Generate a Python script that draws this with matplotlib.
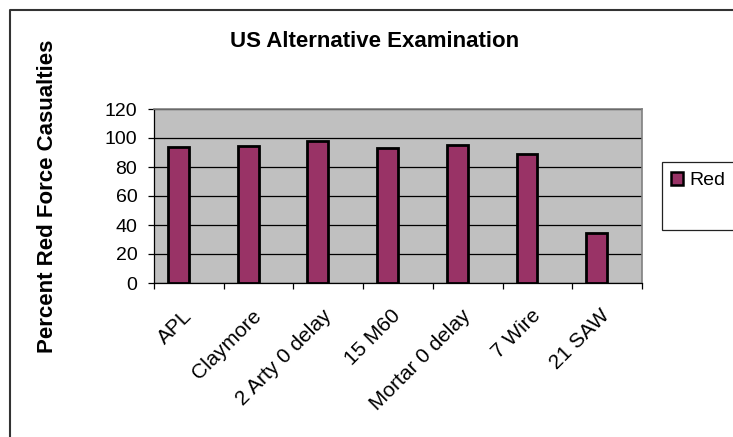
import matplotlib
matplotlib.use("Agg")
import matplotlib.pyplot as plt
from matplotlib.patches import Rectangle
from matplotlib.lines import Line2D
from matplotlib.transforms import ScaledTranslation

plt.rcParams['font.family'] = ['Liberation Sans', 'DejaVu Sans']

categories = ["APL", "Claymore", "2 Arty 0 delay", "15 M60",
              "Mortar 0 delay", "7 Wire", "21 SAW"]
red_values = [94, 94.5, 98, 93.3, 95, 89, 34.3]
series_name = "Red"
y_ticks = [0, 20, 40, 60, 80, 100, 120]

W, H = 733, 437
fig = plt.figure(figsize=(W / 100, H / 100), dpi=100)
fig.patch.set_facecolor("white")

def fx(px):
    return px / W

def fy(py):
    return 1 - py / H

ax = fig.add_axes([fx(154), fy(283), fx(642) - fx(154), fy(109) - fy(283)])
ax.set_facecolor("#C0C0C0")

# clustered layout: the series occupies the left half of each category slot
x = list(range(len(categories)))
ax.bar(x, red_values, width=-0.30, align="edge", color="#993366",
       edgecolor="black", linewidth=2.0, zorder=3)

ax.set_xlim(-0.5, len(categories) - 0.5)
ax.set_ylim(0, 120)
ax.set_yticks(y_ticks)
ax.set_yticklabels([str(v) for v in y_ticks], fontsize=14)
ax.yaxis.grid(True, color="black", linewidth=0.9, zorder=1)
ax.set_axisbelow(True)

# category boundaries carry the tick marks; labels hang below the centres
ax.set_xticks([i - 0.5 for i in range(len(categories) + 1)])
ax.set_xticklabels([])
ax.set_xticks(x, minor=True)
ax.set_xticklabels(categories, minor=True, rotation=45, ha="right",
                   va="center", rotation_mode="anchor", fontsize=15)
shift = ScaledTranslation(-0.25, 0, fig.dpi_scale_trans)
for lbl in ax.get_xticklabels(minor=True):
    lbl.set_transform(lbl.get_transform() + shift)
ax.tick_params(axis="x", which="minor", length=0, pad=21.5)
ax.tick_params(axis="x", which="major", length=4.5, width=0.9, direction="out")
ax.tick_params(axis="y", length=4.5, width=0.9, direction="out", pad=7.5)

for side in ("top", "right"):
    ax.spines[side].set_color("#808080")
    ax.spines[side].set_linewidth(1.2)
for side in ("left", "bottom"):
    ax.spines[side].set_color("black")
    ax.spines[side].set_linewidth(0.9)

fig.text(fx(375), fy(47), "US Alternative Examination", ha="center",
         va="baseline", fontsize=16, fontweight="bold")
fig.text(fx(48), fy(196), "Percent Red Force Casualties", ha="center",
         va="center", rotation=90, fontsize=16, fontweight="bold")

# chart-area border (continues past the right and bottom edges)
fig.add_artist(Line2D([fx(10), fx(10), fx(745)], [fy(445), fy(10), fy(10)],
                      color="#333333", linewidth=1.5))

# legend box
fig.add_artist(Rectangle((fx(662), fy(230)), fx(745) - fx(662), fy(162) - fy(230),
                         facecolor="white", edgecolor="#222222", linewidth=0.9))
fig.add_artist(Rectangle((fx(671), fy(185)), fx(683) - fx(671), fy(172) - fy(185),
                         facecolor="#993366", edgecolor="black", linewidth=1.8))
fig.text(fx(689), fy(185), series_name, ha="left", va="baseline", fontsize=14)

fig.savefig("out.png", dpi=100)
